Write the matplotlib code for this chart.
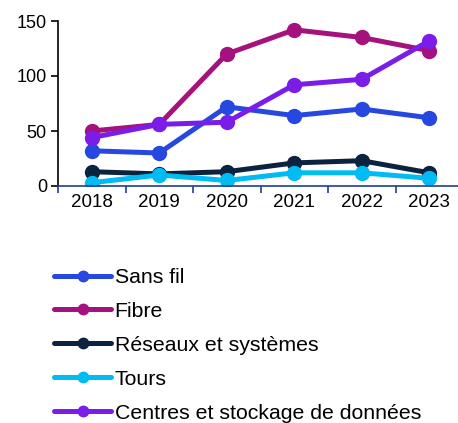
import matplotlib
matplotlib.use("Agg")
import matplotlib.pyplot as plt
from matplotlib.lines import Line2D

plt.rcParams['font.family'] = ['Liberation Sans', 'DejaVu Sans']

years = ['2018', '2019', '2020', '2021', '2022', '2023']
sans_fil = [32, 30, 72, 64, 70, 62]
fibre = [50, 56, 120, 142, 135, 123]
reseaux = [13, 11, 13, 21, 23, 12]
tours = [3, 10, 5, 12, 12, 7]
centres = [44, 56, 58, 92, 97, 132]

series = [
    ('Sans fil', sans_fil, '#2647e0'),
    ('Fibre', fibre, '#a5127e'),
    ('Réseaux et systèmes', reseaux, '#0c2340'),
    ('Tours', tours, '#00bcf2'),
    ('Centres et stockage de données', centres, '#7a1de8'),
]

fig = plt.figure(figsize=(4.58, 4.23), dpi=100)
ax = fig.add_axes([58/458, 1 - 186/423, 405/458, 165/423])

x = range(len(years))
handles = []
for name, vals, col in series:
    ax.plot(x, vals, color=col, lw=3.6, marker='o', ms=10, solid_capstyle='round')
    handles.append(Line2D([], [], color=col, lw=3.6, marker='o', ms=7.5,
                          solid_capstyle='round', label=name))

ax.set_xlim(-0.5, 5.5)
ax.set_ylim(0, 150)
ax.set_yticks([0, 50, 100, 150])
ax.set_xticks([i - 0.5 for i in range(7)], minor=False)
ax.set_xticklabels([])
ax.set_xticks(list(x), minor=True)
ax.set_xticklabels(years, minor=True)
ax.tick_params(axis='x', which='minor', length=0, labelsize=13.5, pad=6)
ax.tick_params(axis='x', which='major', length=5, direction='out', color='#1f3f8f', width=1.2)
ax.tick_params(axis='y', labelsize=13, length=5, width=1.2, pad=3)
for s in ['top', 'right']:
    ax.spines[s].set_visible(False)
ax.spines['bottom'].set_color('#1f3f8f')
ax.spines['bottom'].set_linewidth(1.2)
ax.spines['left'].set_linewidth(1.2)

fig.legend(handles=handles, loc='upper left', bbox_to_anchor=(54/458, 1 - 268/423),
           frameon=False, fontsize=15.3, handlelength=2.7, handletextpad=0.15,
           labelspacing=0.7, borderpad=0, borderaxespad=0)

fig.savefig('out.png', dpi=100)
